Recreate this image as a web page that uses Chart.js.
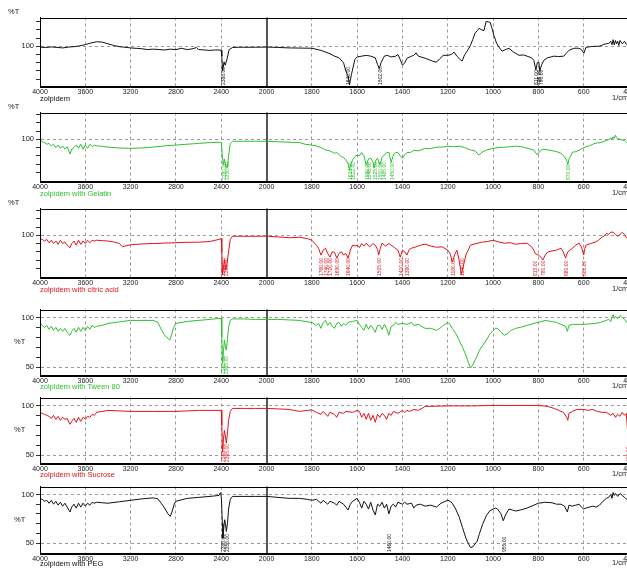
<!DOCTYPE html>
<html>
<head>
<meta charset="utf-8">
<script src="https://cdn.jsdelivr.net/npm/chart.js@4.4.1/dist/chart.umd.min.js"></script>
<style>
  html, body { margin: 0; padding: 0; background: #fff; overflow: hidden; width: 627px; height: 569px; }
  canvas { position: absolute; left: 0; }
  .lbl { position: absolute; font: 7.5px "Liberation Sans", Arial, sans-serif; white-space: nowrap; line-height: 8px; }
</style>
</head>
<body>
<script>
// x tick labels (cm-1); the axis is split at 2000 like the instrument printout
const xTickLabels = [4000, 3600, 3200, 2800, 2400, 2000, 1800, 1600, 1400, 1200, 1000, 800, 600, 400]

// zolpidem
const zolpidemWn = [4000,3950,3900,3850,3800,3750,3700,3650,3600,3550,3500,3450,3400,3350,3300,3250,3200,3150,3100,3050,3000,2950,2900,2850,2800,2750,2700,2650,2620,2600,2550,2500,2450,2420,2400,2395,2388,2375,2365,2350,2330,2300,2250,2200,2100,2000,1950,1900,1850,1800,1760,1720,1700,1680,1660,1650,1640,1634,1625,1610,1600,1580,1560,1540,1520,1510,1502,1495,1480,1467,1450,1430,1420,1410,1400,1390,1380,1360,1350,1340,1330,1300,1280,1268,1250,1235,1220,1200,1185,1172,1160,1145,1137,1125,1110,1100,1090,1080,1070,1062,1050,1040,1031,1020,1013,1005,996,985,974,960,945,930,910,885,865,850,830,820,811,805,798,794,785,776,760,745,732,710,688,675,665,643,621,610,599,590,570,550,533,520,511,500,489,480,475,470,465,460,455,450,445,440,430,420,410,400]
const zolpidemT = [99,98.5,99.2,98.6,98,99,99.5,100.5,102,104,105.5,105,103,101,99.5,98.8,98,97.5,97,96,96.5,96,95.5,96.5,96,97.5,96,97,98.5,96,95.5,95,95.5,95.5,95,88,70,81,77,84,96,98.5,98.8,98.8,98.8,99,98.6,98,97.8,97.6,95,91,88,86,80,70,64,53,66,84,87,88,89,88,86,78,73,80,88,89,87,88,90,84,77,80,85.5,88,89,92,88,85.5,83.5,82,80.7,85,89,89,90,92.8,88,84,82,90,96,101,108,115.7,119,121.7,120,119,130,129.5,129,122,113,104,99,94,96,97.5,93,89,89.5,88,86,83,71,80,80.7,70,78,83,86,87,88,87.5,88,92,95,97.6,97.6,96,91.6,98.8,99.5,100,100,101,102.4,103,103.6,106,102,108,101.5,107,103,106,101,107,103,106,102,104]
const zolpidemPeaks = [2388, 1640, 1502, 811, 798, 790]

// zolpidem with Gelatin
const gelatinWn = [4000,3980,3960,3940,3920,3900,3880,3860,3840,3820,3800,3780,3760,3745,3735,3720,3700,3680,3660,3640,3620,3600,3580,3560,3540,3520,3500,3450,3400,3300,3200,3100,3000,2900,2800,2700,2600,2500,2420,2400,2390,2380,2372,2365,2355,2345,2335,2320,2300,2200,2100,2000,1950,1900,1855,1830,1800,1780,1760,1740,1720,1700,1690,1670,1660,1650,1640,1634,1628,1620,1610,1600,1590,1580,1570,1560,1550,1540,1530,1525,1518,1510,1500,1490,1480,1470,1460,1450,1440,1430,1420,1410,1400,1390,1380,1365,1350,1330,1300,1280,1250,1225,1200,1175,1150,1125,1100,1080,1063,1050,1030,1000,975,950,925,900,875,850,820,805,795,780,750,720,700,685,675,670,665,655,650,635,620,600,575,550,525,500,490,480,475,470,465,460,455,450,440,430,420,410,400]
const gelatinT = [99,97,96,94,95,92,94,90,93,89,92,88,91,86,82,88,90,93,89,94,88,93,89,94,91,93,92,91.5,90.5,89.5,89,89.5,90.5,92,93,94,95,96,96.4,96,80,69,76,72,65,66,80,95,97.6,97.6,97.6,97.6,97,96.5,96,94,93,92,90,87,86,83,84,79,78,75,70,63,70,75,79,81,80,84,80,69,76,77,72,65,74,77,69,78,81,84,84,72,81,84,84,80,77,81,84,84,86.7,86,89,88.5,90.4,90.5,91.6,91,91.6,90,87,86,81,84,87,89,90,90.4,91,91.6,91,89.2,87,81,85,88,86.7,85,83,79,74,69,76,81,84.3,85,86.7,90,92,95.2,96,98.8,99,102,100,103,101,105,102,101,100,99,98.8,96,92.8]
const gelatinPeaks = [2380, 2350, 1634, 1622, 1560, 1548, 1525, 1500, 1485, 1450, 670]

// zolpidem with citric acid
const citricWn = [4000,3980,3960,3940,3920,3900,3880,3860,3840,3820,3800,3780,3760,3745,3735,3720,3700,3680,3660,3640,3620,3600,3580,3560,3540,3520,3500,3450,3400,3350,3300,3270,3250,3200,3100,3000,2900,2800,2700,2600,2500,2420,2400,2395,2388,2380,2370,2360,2350,2335,2320,2300,2200,2100,2000,1950,1900,1855,1820,1800,1780,1770,1760,1750,1740,1730,1720,1710,1700,1690,1680,1670,1660,1650,1640,1630,1620,1610,1600,1590,1580,1570,1560,1545,1530,1520,1510,1505,1498,1490,1475,1460,1450,1435,1420,1410,1400,1390,1380,1370,1360,1340,1320,1300,1275,1250,1225,1200,1190,1180,1170,1160,1150,1140,1130,1120,1100,1075,1050,1025,1000,975,950,925,900,875,850,830,820,815,800,790,780,770,760,740,720,700,690,680,670,650,635,620,610,600,595,590,570,550,535,520,510,500,490,480,470,460,450,440,430,420,410,400]
const citricT = [96,95,93,95,91,94,90,93,89,94,90,92,88,86,85,90,93,88,94,89,93,90,94,91,94,93,94,93.5,93,92,90,86,87,88.5,89.5,90,90.5,91,91.5,91.6,92.5,95,96,80,52,62,70,58,65,80,95,98.8,98.8,98.8,99,98,97,97.6,96,94,88,84,76,82,84.3,78,73.5,80,79.5,72.3,78,80,76,78,72.3,82,88,87,88,85,90,87,90.4,86,90,88,83,76,84,90.4,87,90,88,85,82,73.5,82,80,76,83,84.3,86,88,89.2,87,85.5,86,82,78,67.5,76,82,70,52,64,76,88,90,91.6,92.5,94,92,90.4,91,89.2,90,90.4,86,82,78,76,74,70,76,79.5,81,82,84.3,80,72.3,80,84.3,88,90.4,86,76,84,88,90,91.6,94,97.6,99,102.4,101,104,103.6,101,98.8,101,103.6,101,97,94]
const citricPeaks = [2388, 2360, 1760, 1740, 1720, 1690, 1640, 1505, 1410, 1380, 1180, 1140, 815, 780, 680, 600]

// zolpidem with Tween 80
const tweenWn = [4000,3980,3960,3940,3920,3900,3880,3860,3840,3820,3800,3780,3760,3745,3735,3720,3700,3680,3660,3640,3620,3600,3580,3560,3540,3520,3500,3450,3400,3300,3200,3100,3000,2960,2930,2900,2870,2855,2840,2820,2800,2700,2600,2500,2420,2400,2395,2388,2380,2372,2365,2355,2345,2335,2320,2300,2200,2100,2000,1950,1900,1855,1820,1800,1780,1770,1760,1750,1740,1730,1720,1710,1700,1690,1680,1670,1660,1650,1640,1620,1600,1590,1580,1570,1560,1550,1540,1530,1520,1510,1500,1490,1480,1470,1460,1450,1440,1430,1420,1400,1380,1360,1350,1330,1300,1275,1250,1235,1220,1200,1190,1180,1165,1150,1135,1120,1110,1100,1090,1075,1060,1045,1030,1015,1000,990,980,965,950,935,920,900,880,850,820,800,770,745,720,700,680,672,665,650,620,600,575,550,525,500,490,480,475,470,465,460,450,440,430,420,410,400]
const tweenT = [94,92,90,92,88,91,87,90,86,89,86,89,85,83,82,86,89,85,90,86,90,87,91,88,92,90,91,92,94,95.5,97,97,97,95,88,82,79,77,82,90,94,96,97,98,99,99,80,54,66,77,72,67,78,90,97,98.5,98.5,98,98,98,97.5,97,95.5,95,92,94,89,95,97,92,95,91,89,94,95,91,94,92,95,96,97,93,90,87,93,88,92,89,85,92,92,88,93,89,82,91,92,95,93,94,93,95,92,93,89,89,87,89,92,95,93,89,84,77,70,62,55,49,52,59,67,72,77,83,87,89,89,85,82,84,87,89,90,92,94,95,97,96,95,93,91,86,92,93,93,93,93.5,94,95,97,98,96,101,103,99,101,99,102,100,98,95,92]
const tweenPeaks = [2388, 2365]

// zolpidem with Sucrose
const sucroseWn = [4000,3980,3960,3940,3920,3900,3880,3860,3840,3820,3800,3780,3760,3745,3735,3720,3700,3680,3660,3640,3620,3600,3580,3560,3540,3520,3500,3450,3400,3300,3200,3000,2800,2700,2600,2500,2420,2400,2395,2388,2380,2372,2365,2355,2345,2335,2320,2300,2200,2100,2000,1950,1900,1855,1820,1800,1780,1760,1750,1730,1720,1700,1690,1680,1660,1650,1620,1600,1590,1580,1570,1560,1550,1540,1530,1520,1510,1500,1490,1480,1470,1460,1450,1440,1420,1400,1390,1380,1370,1350,1330,1300,1200,1100,1000,900,800,760,730,710,690,675,670,665,650,630,600,580,560,540,520,500,480,470,460,450,440,430,420,412,405,400]
const sucroseT = [93,92,91,90,89,87,90,86,89,85,88,86,87,83,81,84,87,83,88,84,88,86,89,88,91,90,93,94,95,94.5,94,94,94,94.5,95,95,95,95,80,53,66,75,70,62,72,85,94,97,97,97,97,96.5,96,94,95,95.5,93,91,94,89,93,91,88,93,92,94,93,95,94,88,92,86,92,85,90,83,91,88,92,90,86,92,90,94,92,95,93,95,94,96,95,99,99.5,99.5,100,100,100,99,97,95,93,88,85,92,94,96,96,95,96,94,93,93,90,92,88,91,89,93,90,92,70,45]
const sucrosePeaks = [2388, 2355, 405]

// zolpidem with PEG
const pegWn = [4000,3980,3960,3940,3920,3900,3880,3860,3840,3820,3800,3780,3760,3745,3735,3720,3700,3680,3660,3640,3620,3600,3580,3560,3540,3520,3500,3450,3400,3300,3200,3100,3000,2960,2930,2900,2870,2850,2835,2815,2800,2700,2600,2500,2420,2405,2398,2390,2385,2378,2370,2362,2355,2345,2335,2320,2300,2200,2100,2000,1950,1900,1855,1820,1800,1780,1760,1750,1730,1720,1700,1690,1680,1660,1650,1640,1630,1620,1600,1590,1580,1570,1560,1550,1540,1530,1520,1510,1500,1490,1480,1470,1460,1450,1440,1430,1420,1400,1390,1380,1360,1350,1340,1320,1300,1275,1250,1230,1210,1200,1190,1180,1165,1150,1135,1120,1110,1100,1090,1080,1070,1060,1045,1030,1015,1000,990,980,965,955,945,930,915,900,880,850,820,800,770,740,720,700,685,672,665,650,635,620,610,600,590,575,560,545,530,515,500,490,480,475,470,465,460,450,440,430,420,410,400]
const pegT = [96,95,93,94,91,94,90,93,89,92,88,91,87,84,82,87,90,86,91,87,91,88,91,89,92,91,92,91.5,91,92.5,94,95.5,96.5,95.5,91,86,80,77.5,82,90,93,96,97,98,99,102,95,70,55,65,74,70,62,70,85,95,98,98,98,98,97,96,96,95,94,95,91,94,90,93,91,89,93,90,87,84,90,93,96,92,86,93,90,85,92,84,79,90,88,92,86,90,80,88,90,87,92,90,92,90,91,86,89,90,88,89,87,91,93,94,93,91,85,77,66,55,50,45.5,46,49,52,60,70,78,83,85,86,85,80,73,79,85,84,83,84,86,89,91,92,91.5,90,90,88,82,89,88,89,90,87,85,86,87,88,87,89,93,96,97,100,96,102,99,101,98,101,99,97,95,94]
const pegPeaks = [2385, 2355, 1460, 955]

const yTicksTop = [60, 70, 80, 90, 100, 110, 120, 130]
const yLabelsTop = [100]
const yTicksLow = [50, 60, 70, 80, 90, 100]
const yLabelsLow = [50, 100]

const FONT = '"Liberation Sans", Arial, sans-serif'
const BLACK = '#111111', GREEN = '#2fbf2f', RED = '#e0141e'

// break the wavenumber axis: 400 cm-1 per unit above 2000, 200 cm-1 per unit below
const toU = wn => wn >= 2000 ? (4000 - wn) / 400 : 5 + (2000 - wn) / 200
const majorU = xTickLabels.map(toU)
const minorU = []
for (let u = 0; u <= 13.0001; u += 0.25) minorU.push(Math.round(u * 100) / 100)
const isMajor = v => majorU.some(m => Math.abs(m - v) < 1e-6)

const panels = [
  { wn: zolpidemWn, t: zolpidemT, peaks: zolpidemPeaks, color: BLACK, name: 'zolpidem', top: 17, bottom: 86, yMin: 51.8, yMax: 134.9, yTicks: yTicksTop, yLabels: yLabelsTop, nameTop: 95 },
  { wn: gelatinWn, t: gelatinT, peaks: gelatinPeaks, color: GREEN, name: 'zolpidem with Gelatin', top: 112, bottom: 181, yMin: 49.4, yMax: 132.5, yTicks: yTicksTop, yLabels: yLabelsTop, nameTop: 190 },
  { wn: citricWn, t: citricT, peaks: citricPeaks, color: RED, name: 'zolpidem with citric acid', top: 208, bottom: 277, yMin: 49.4, yMax: 132.5, yTicks: yTicksTop, yLabels: yLabelsTop, nameTop: 286 },
  { wn: tweenWn, t: tweenT, peaks: tweenPeaks, color: GREEN, name: 'zolpidem with Tween 80', top: 309, bottom: 375, yMin: 42, yMax: 108, yTicks: yTicksLow, yLabels: yLabelsLow, nameTop: 383 },
  { wn: sucroseWn, t: sucroseT, peaks: sucrosePeaks, color: RED, name: 'zolpidem with Sucrose', top: 397, bottom: 463, yMin: 42, yMax: 108, yTicks: yTicksLow, yLabels: yLabelsLow, nameTop: 471 },
  { wn: pegWn, t: pegT, peaks: pegPeaks, color: BLACK, name: 'zolpidem with PEG', top: 486, bottom: 553, yMin: 39.8, yMax: 108.2, yTicks: yTicksLow, yLabels: yLabelsLow, nameTop: 560 },
]

// frame, the solid line at the axis break and the small peak labels
const framePlugin = {
  id: 'frame',
  beforeDatasetsDraw(chart) {
    const { ctx, chartArea: a, scales: { x } } = chart
    const px = Math.round(x.getPixelForValue(toU(2000)))
    ctx.save()
    ctx.strokeStyle = '#555'
    ctx.lineWidth = 2
    ctx.beginPath()
    ctx.moveTo(px, a.top)
    ctx.lineTo(px, a.bottom)
    ctx.stroke()
    ctx.restore()
  },
  afterDatasetsDraw(chart, args, opts) {
    const { ctx, chartArea: a, scales: { x } } = chart
    ctx.save()
    ctx.strokeStyle = '#000'
    ctx.lineWidth = 1
    ctx.strokeRect(Math.round(a.left) + 0.5, Math.round(a.top) + 0.5, Math.round(a.width), Math.round(a.height))
    ctx.fillStyle = opts.color
    ctx.font = '5px ' + FONT
    ctx.textBaseline = 'middle'
    ctx.textAlign = 'left'
    ;(opts.peaks || []).forEach(w => {
      const px = x.getPixelForValue(toU(w))
      ctx.save()
      ctx.translate(px + 1, a.bottom - 1)
      ctx.rotate(-Math.PI / 2)
      ctx.fillText(w.toFixed(2), 0, 0)
      ctx.restore()
    })
    ctx.restore()
  }
}

const PAD_TOP = 6, AXIS_H = 11, CANVAS_W = 680, PLOT_RIGHT = 629

panels.forEach((p, idx) => {
  const canvas = document.createElement('canvas')
  canvas.width = CANVAS_W
  canvas.height = p.bottom - p.top + PAD_TOP + AXIS_H
  canvas.style.top = (p.top - PAD_TOP) + 'px'
  document.body.appendChild(canvas)

  new Chart(canvas, {
    type: 'line',
    data: {
      datasets: [{
        data: p.wn.map((w, i) => ({ x: toU(w), y: p.t[i] })),
        borderColor: p.color,
        borderWidth: 1,
        pointRadius: 0,
        tension: 0,
      }],
    },
    options: {
      responsive: false,
      animation: false,
      devicePixelRatio: 1,
      layout: { padding: { top: PAD_TOP, left: 0, right: CANVAS_W - PLOT_RIGHT, bottom: 0 } },
      plugins: {
        legend: { display: false },
        tooltip: { enabled: false },
        frame: { peaks: p.peaks, color: p.color },
      },
      scales: {
        x: {
          type: 'linear',
          min: 0,
          max: 13,
          afterBuildTicks: s => { s.ticks = minorU.map(u => ({ value: u })) },
          afterFit: s => { s.height = AXIS_H },
          ticks: {
            autoSkip: false,
            maxRotation: 0,
            minRotation: 0,
            padding: 0,
            color: '#222',
            font: { size: 7, family: FONT },
            callback: v => {
              const i = majorU.findIndex(m => Math.abs(m - v) < 1e-6)
              return i >= 0 ? String(xTickLabels[i]) : ''
            },
          },
          grid: {
            color: c => (c.tick && isMajor(c.tick.value) && c.tick.value > 0 && c.tick.value < 13 && Math.abs(c.tick.value - 5) > 1e-6) ? '#9a9a9a' : 'rgba(0,0,0,0)',
            tickColor: '#333',
            tickLength: 2,
          },
          border: { display: true, color: '#000', dash: [3, 3] },
        },
        y: {
          min: p.yMin,
          max: p.yMax,
          afterBuildTicks: s => { s.ticks = p.yTicks.map(v => ({ value: v })) },
          afterFit: s => { s.width = 40 },
          ticks: {
            autoSkip: false,
            padding: 2,
            color: '#222',
            font: { size: 7.5, family: FONT },
            callback: v => p.yLabels.includes(v) ? String(v) : '',
          },
          grid: {
            color: c => (c.tick && p.yLabels.includes(c.tick.value)) ? '#9a9a9a' : 'rgba(0,0,0,0)',
            tickColor: '#333',
            tickLength: 4,
          },
          border: { display: true, color: '#000', dash: [3, 3] },
        },
      },
    },
    plugins: [framePlugin],
  })

  // text around each panel
  const addLabel = (text, left, top, color) => {
    const d = document.createElement('div')
    d.className = 'lbl'
    d.textContent = text
    d.style.left = left + 'px'
    d.style.top = top + 'px'
    d.style.color = color
    document.body.appendChild(d)
  }
  if (idx < 3) addLabel('%T', 8, p.top - 9, '#222')
  else addLabel('%T', 14, Math.round((p.top + p.bottom) / 2) - 4, '#222')
  addLabel(p.name, 40, p.nameTop, p.color)
  addLabel('1/cm', 612, p.nameTop - 1, '#222')
})
</script>
</body>
</html>
